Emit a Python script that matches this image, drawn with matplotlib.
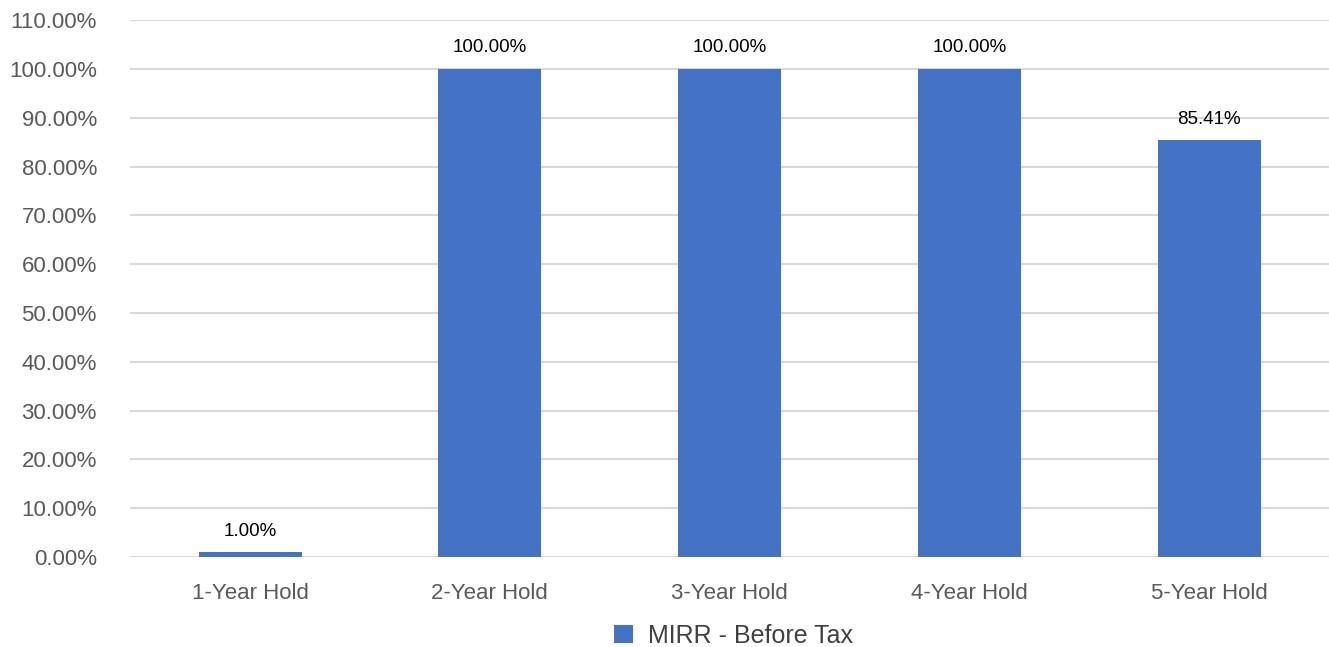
import matplotlib.pyplot as plt
from matplotlib.ticker import MultipleLocator, FuncFormatter
from matplotlib.patches import Patch

categories = ['1-Year Hold', '2-Year Hold', '3-Year Hold', '4-Year Hold', '5-Year Hold']
mirr_values = [1.00, 100.00, 100.00, 100.00, 85.41]
series_name = 'MIRR - Before Tax'

plt.rcParams['font.family'] = ['Liberation Sans', 'DejaVu Sans']

fig = plt.figure(figsize=(13.29, 6.47), dpi=100)
ax = fig.add_axes([0.098, 0.139, 0.902, 0.830])

x = range(len(categories))
bars = ax.bar(x, mirr_values, width=0.43, color='#4472C4', zorder=3)

for rect, val in zip(bars, mirr_values):
    ax.annotate(f'{val:.2f}%', (rect.get_x() + rect.get_width() / 2, rect.get_height()),
                xytext=(0, 9), textcoords='offset points', ha='center', va='bottom',
                fontsize=13.5, color='#000000')

ax.set_xlim(-0.5, len(categories) - 0.5)
ax.set_ylim(0, 110)
ax.yaxis.set_major_locator(MultipleLocator(10))
ax.yaxis.set_major_formatter(FuncFormatter(lambda v, p: f'{v:.2f}%'))
ax.grid(axis='y', color='#d9d9d9', linewidth=1.5, zorder=0)
ax.set_xticks(list(x))
ax.set_xticklabels(categories)

for s in ax.spines.values():
    s.set_visible(False)
ax.tick_params(axis='both', length=0, labelsize=16, colors='#595959')
ax.tick_params(axis='y', pad=24)
ax.tick_params(axis='x', pad=19)

handle = Patch(facecolor='#4472C4', label=series_name)
fig.legend(handles=[handle], loc='lower center', bbox_to_anchor=(0.552, -0.036), frameon=False,
           fontsize=18, handlelength=0.75, handleheight=0.75, handletextpad=0.6,
           labelcolor='#404040')

fig.savefig('out.png', dpi=100)
